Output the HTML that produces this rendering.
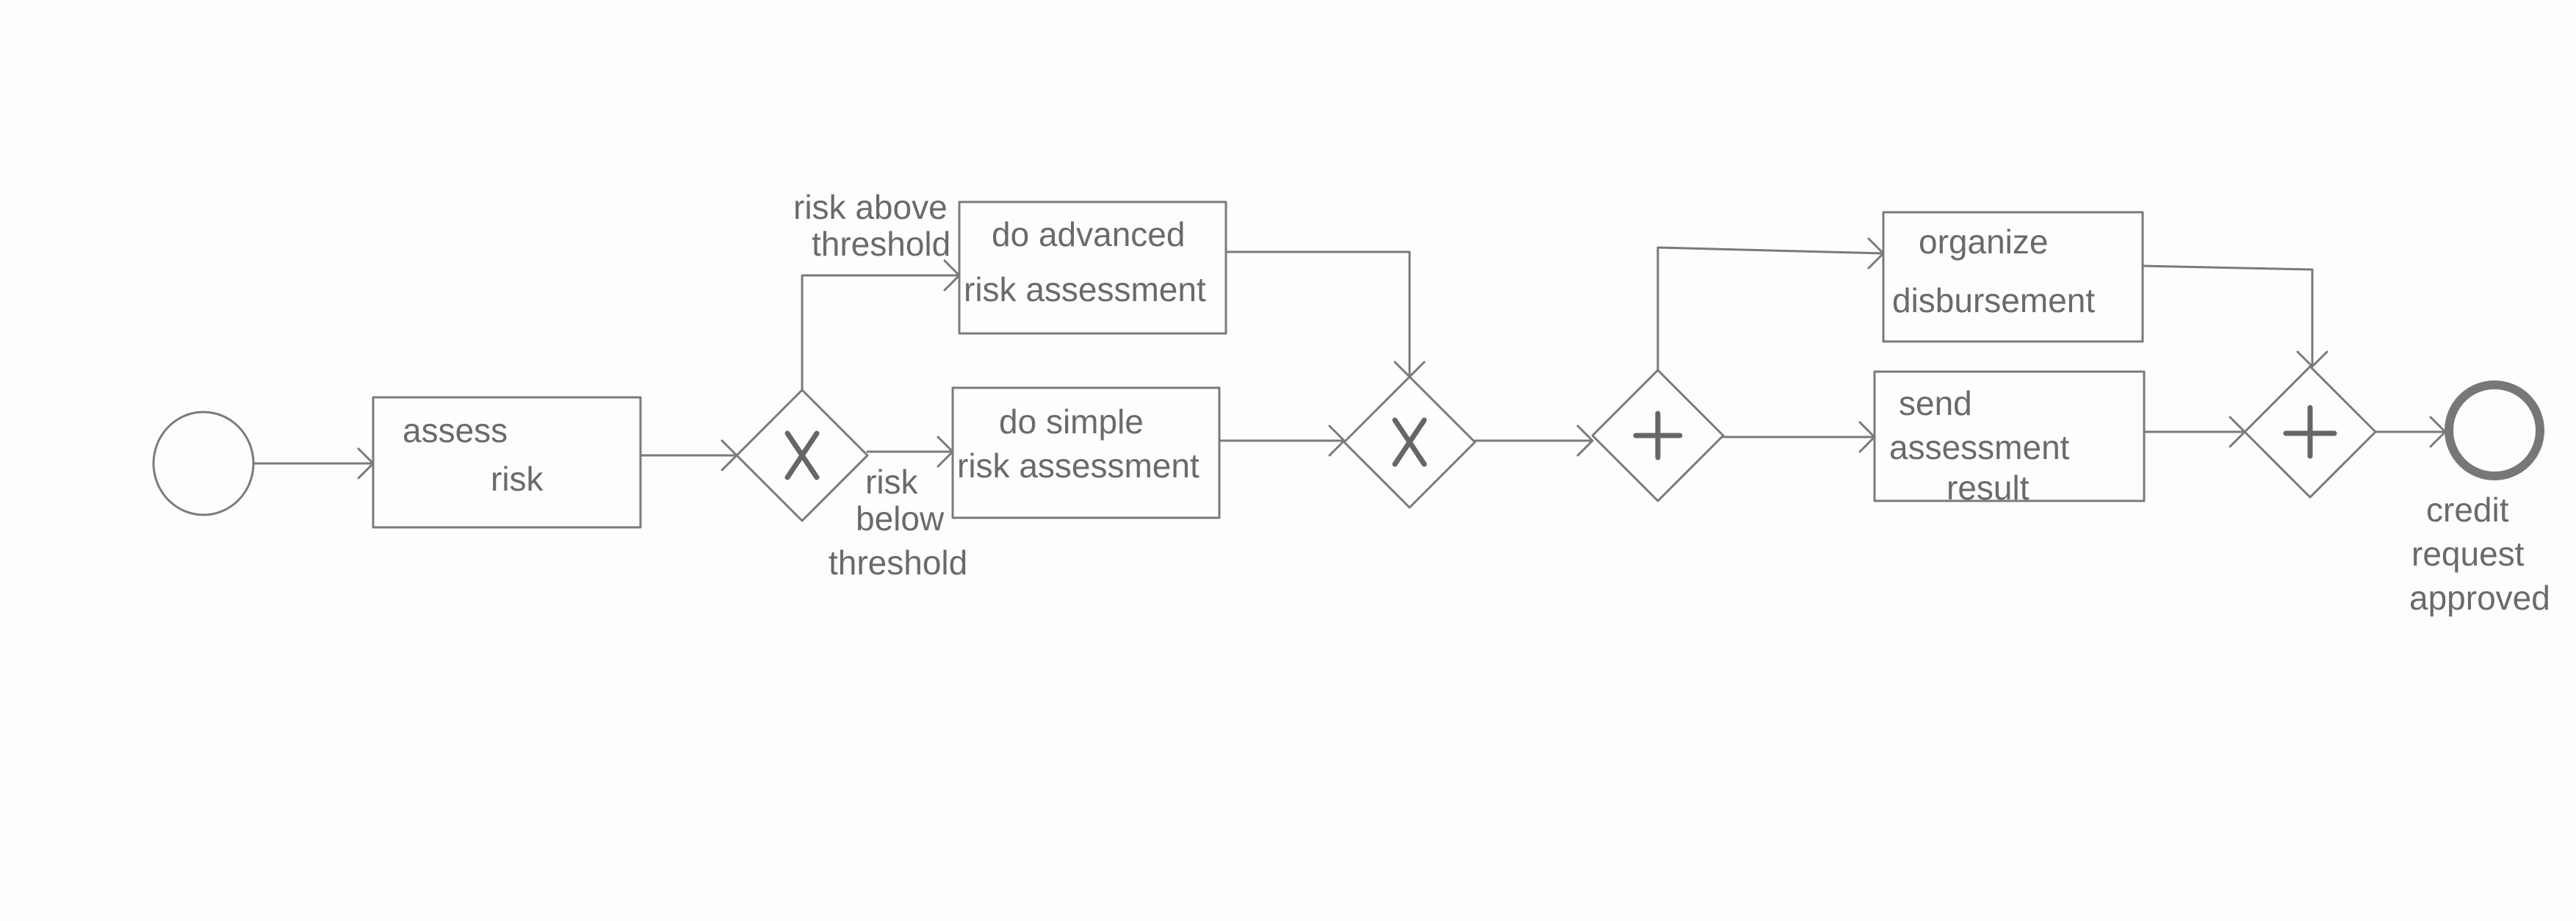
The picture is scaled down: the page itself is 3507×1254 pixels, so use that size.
<!DOCTYPE html>
<html><head><meta charset="utf-8"><style>
html,body{margin:0;padding:0;background:#fdfdfd;}
svg{display:block}
text{font-family:"Liberation Sans",sans-serif;fill:#6a6a6a;font-size:46px;}
</style></head><body>
<svg width="3507" height="1254" viewBox="0 0 3507 1254" xmlns="http://www.w3.org/2000/svg">
<rect width="3507" height="1254" fill="#fdfdfd"/>
<g fill="none" stroke="#7a7a7a" stroke-width="3" stroke-linecap="round" stroke-linejoin="round">
<ellipse cx="277" cy="631" rx="68" ry="70"/>
<rect x="508" y="541" width="364" height="177"/>
<rect x="1306" y="275" width="363" height="179"/>
<rect x="1297" y="528" width="363" height="177"/>
<rect x="2564" y="289" width="353" height="176"/>
<rect x="2552" y="506" width="367" height="176"/>
<polygon points="1092,531 1181,620 1092,709 1003,620"/>
<polygon points="1919,513 2008,602 1919,691 1830,602"/>
<polygon points="2257,504 2346,593 2257,682 2168,593"/>
<polygon points="3145,499 3234,588 3145,677 3056,588"/>
<path d="M345,631 H508"/><path d="M488,611 L508,631 L488,651"/>
<path d="M872,620 H1003"/><path d="M983,600 L1003,620 L983,640"/>
<path d="M1181,615 H1297"/><path d="M1277,595 L1297,615 L1277,635"/>
<path d="M1092,531 V375 H1306"/><path d="M1286,355 L1306,375 L1286,395"/>
<path d="M1669,343 H1919 V513"/><path d="M1899,493 L1919,513 L1939,493"/>
<path d="M1660,600 H1830"/><path d="M1810,580 L1830,600 L1810,620"/>
<path d="M2008,600 H2168"/><path d="M2148,580 L2168,600 L2148,620"/>
<path d="M2257,504 V337 L2564,345"/><path d="M2544,325 L2564,345 L2544,365"/>
<path d="M2346,595 H2552"/><path d="M2532,575 L2552,595 L2532,615"/>
<path d="M2917,362 L3148,367 V499"/><path d="M3128,479 L3148,499 L3168,479"/>
<path d="M2919,588 H3056"/><path d="M3036,568 L3056,588 L3036,608"/>
<path d="M3234,588 H3329"/><path d="M3309,568 L3329,588 L3309,608"/>
</g>
<circle cx="3396" cy="586" r="62" fill="none" stroke="#777" stroke-width="12"/>
<g stroke="#666" stroke-width="7" stroke-linecap="round">
<path d="M1072,590 L1112,650 M1112,590 L1072,650"/>
<path d="M1899,572 L1939,632 M1939,572 L1899,632"/>
<path d="M2257,563 V623 M2227,593 H2287"/>
<path d="M3145,555 V621 M3112,590 H3178"/>
</g>
<text x="548" y="602">assess</text>
<text x="668" y="668">risk</text>
<text x="1350" y="335">do  advanced</text>
<text x="1312" y="410">risk assessment</text>
<text x="1360" y="590">do  simple</text>
<text x="1303" y="650">risk assessment</text>
<text x="2612" y="345">organize</text>
<text x="2576" y="425">disbursement</text>
<text x="2585" y="565">send</text>
<text x="2572" y="625">assessment</text>
<text x="2650" y="680">result</text>
<g style="font-size:40px">
<text x="1080" y="298">risk above</text>
<text x="1105" y="348">threshold</text>
<text x="1178" y="672">risk</text>
<text x="1165" y="722">below</text>
<text x="1128" y="782">threshold</text>
<text x="3303" y="710">credit</text>
<text x="3283" y="770">request</text>
<text x="3280" y="830">approved</text>
</g>
</svg>
</body></html>
